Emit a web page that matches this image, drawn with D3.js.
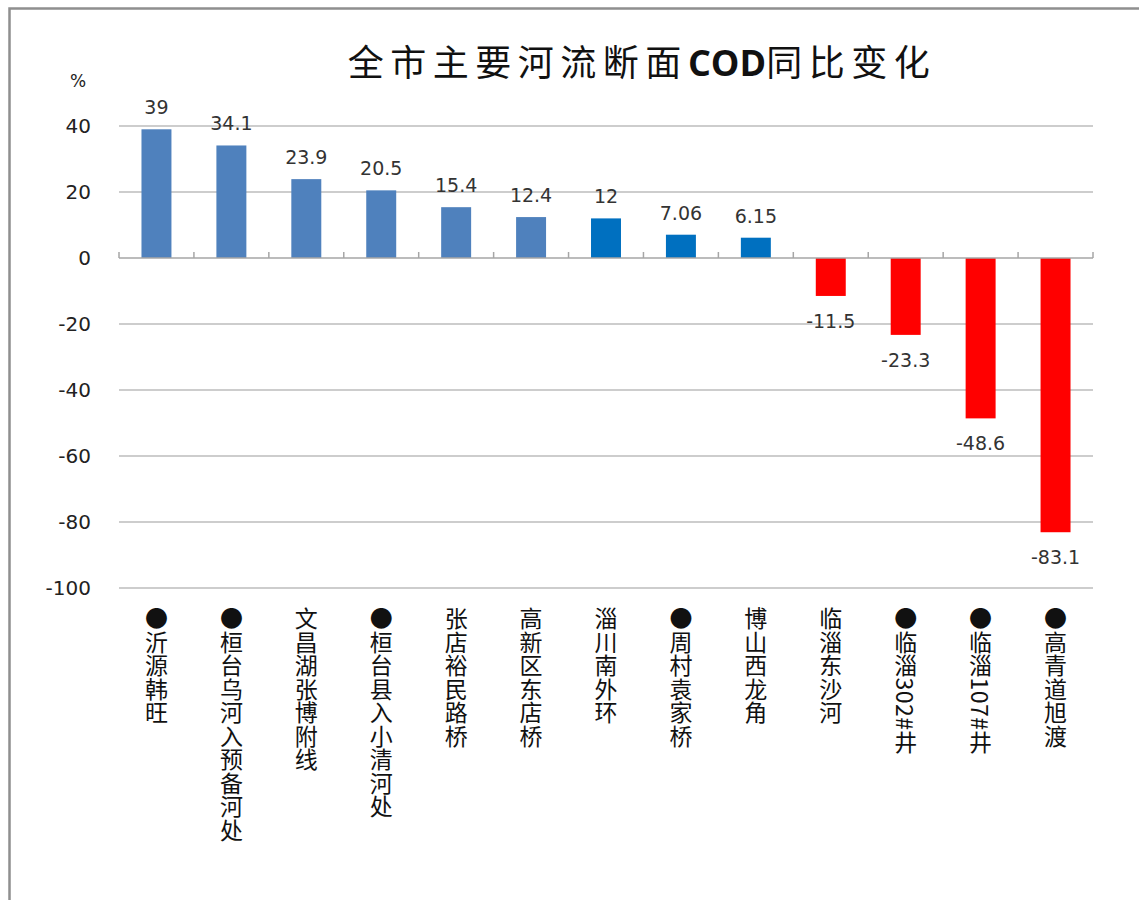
<!DOCTYPE html>
<html>
<head>
<meta charset="utf-8">
<script src="https://cdn.jsdelivr.net/npm/d3@7"></script>
<style>
  body { margin: 0; background: #fff; }
  svg { display: block; }
</style>
</head>
<body>
<svg id="chart"></svg>
<script>
const categories = ["●沂源韩旺", "●桓台乌河入预备河处", "文昌湖张博附线", "●桓台县入小清河处", "张店裕民路桥",
  "高新区东店桥", "淄川南外环", "●周村袁家桥", "博山西龙角", "临淄东沙河", "●临淄302#井", "●临淄107#井", "●高青道旭渡"];
const values = [39, 34.1, 23.9, 20.5, 15.4, 12.4, 12, 7.06, 6.15, -11.5, -23.3, -48.6, -83.1];
const yTicks = [40, 20, 0, -20, -40, -60, -80, -100];

const width = 1139, height = 900;
const plot = { left: 119, right: 1093, top: 126, bottom: 588 };

const svg = d3.select("#chart")
  .attr("width", width)
  .attr("height", height);

// outer frame (only left and top edges are in view)
svg.append("path")
  .attr("d", `M9.5,${height} V8.5 H${width}`)
  .attr("fill", "none")
  .attr("stroke", "#8f8f8f")
  .attr("stroke-width", 2.5);

const x = d3.scaleBand()
  .domain(categories)
  .range([plot.left, plot.right])
  .paddingInner(0.6)
  .paddingOuter(0.3);

const y = d3.scaleLinear()
  .domain([-100, 40])
  .range([plot.bottom, plot.top]);

// title
const cjk = "'Noto Sans CJK SC', sans-serif";
svg.append("text")
  .attr("x", 642)
  .attr("y", 76)
  .attr("text-anchor", "middle")
  .attr("font-family", cjk)
  .attr("font-size", 36)
  .attr("fill", "#111")
  .call(t => {
    t.append("tspan").attr("letter-spacing", 6.5).text("全市主要河流断面");
    t.append("tspan").attr("font-family", "'Open Sans', 'DejaVu Sans', sans-serif").attr("font-weight", "bold").text("COD");
    t.append("tspan").attr("letter-spacing", 6.5).text("同比变化");
  });

// unit
svg.append("text")
  .attr("x", 78)
  .attr("y", 87)
  .attr("text-anchor", "middle")
  .attr("font-family", "'DejaVu Sans', sans-serif")
  .attr("font-size", 17)
  .attr("fill", "#222")
  .text("%");

// gridlines
svg.append("g")
  .selectAll("line")
  .data(yTicks.filter(d => d !== 0))
  .join("line")
  .attr("x1", plot.left)
  .attr("x2", plot.right)
  .attr("y1", d => y(d))
  .attr("y2", d => y(d))
  .attr("stroke", "#bdbdbd")
  .attr("stroke-width", 1.5);

// y tick labels
svg.append("g")
  .selectAll("text")
  .data(yTicks)
  .join("text")
  .attr("x", 91)
  .attr("y", d => y(d))
  .attr("dy", "0.36em")
  .attr("text-anchor", "end")
  .attr("font-family", "'DejaVu Sans', sans-serif")
  .attr("font-size", 20)
  .attr("fill", "#222")
  .text(d => d);

// bars
const barColor = (d, i) => d < 0 ? "#ff0000" : (i < 6 ? "#4f81bd" : "#0070c0");

svg.append("g")
  .selectAll("rect")
  .data(values)
  .join("rect")
  .attr("x", (d, i) => x(categories[i]))
  .attr("width", x.bandwidth())
  .attr("y", d => y(Math.max(0, d)))
  .attr("height", d => Math.abs(y(d) - y(0)))
  .attr("fill", barColor);

// zero axis with category ticks
const zeroY = y(0);
const axis = svg.append("g").attr("stroke", "#a6a6a6").attr("stroke-width", 1.5);
axis.append("line")
  .attr("x1", plot.left)
  .attr("x2", plot.right)
  .attr("y1", zeroY)
  .attr("y2", zeroY);
axis.selectAll(".tick")
  .data(d3.range(categories.length + 1))
  .join("line")
  .attr("class", "tick")
  .attr("x1", i => plot.left + i * (plot.right - plot.left) / categories.length)
  .attr("x2", i => plot.left + i * (plot.right - plot.left) / categories.length)
  .attr("y1", zeroY - 6)
  .attr("y2", zeroY);

// value labels
svg.append("g")
  .selectAll("text")
  .data(values)
  .join("text")
  .attr("x", (d, i) => x(categories[i]) + x.bandwidth() / 2)
  .attr("y", d => d >= 0 ? y(d) - 15 : y(d) + 32)
  .attr("text-anchor", "middle")
  .attr("font-family", "'DejaVu Sans', sans-serif")
  .attr("font-size", 19)
  .attr("fill", "#333")
  .text(d => d);

// vertical category labels
svg.append("g")
  .selectAll("text")
  .data(categories)
  .join("text")
  .attr("x", d => x(d) + x.bandwidth() / 2)
  .attr("y", 607)
  .style("writing-mode", "vertical-rl")
  .attr("font-family", cjk)
  .attr("font-size", 23)
  .attr("letter-spacing", 0.5)
  .attr("fill", "#111")
  .text(d => d);
</script>
</body>
</html>
